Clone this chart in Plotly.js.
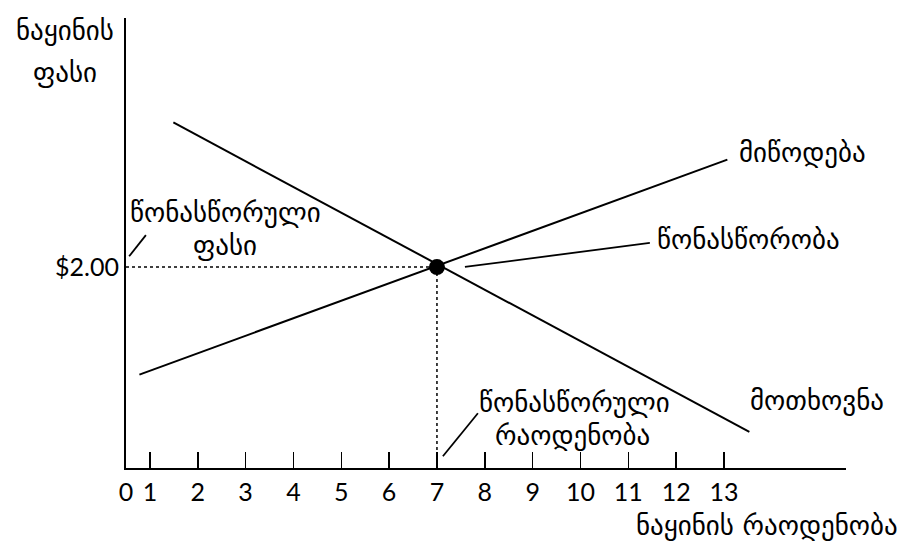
<!DOCTYPE html>
<html>
<head>
<meta charset="utf-8">
<script src="https://cdn.plot.ly/plotly-3.0.1.min.js"></script>
<style>
  html, body { margin: 0; padding: 0; background: #fff; }
  #plot { width: 909px; height: 544px; }
</style>
</head>
<body>
<div id="plot"></div>
<script>
// Supply and demand lines (quantity on x, price on y, $2.00 = 2)
let supplyX = [0.78, 13.07];
let supplyY = [0.93, 3.07];
let demandX = [1.49, 13.53];
let demandY = [3.44, 0.36];

// Equilibrium point
let eqX = [7];
let eqY = [2];

// Axis ticks
let xTickVals = [0.5, 1, 2, 3, 4, 5, 6, 7, 8, 9, 10, 11, 12, 13];
let xTickText = ["0", "1", "2", "3", "4", "5", "6", "7", "8", "9", "10", "11", "12", "13"];
let yTickVals = [2];
let yTickText = ["$2.00"];

let geoFont = { family: "DejaVu Sans, sans-serif", size: 27, color: "#000" };
let numFont = { family: "Lato, Open Sans, sans-serif", size: 25, color: "#000" };

let line = { color: "#000", width: 2 };
let dotted = { color: "#000", width: 1.5, dash: "dot" };

let data = [
  { x: [0.5, eqX[0]], y: [eqY[0], eqY[0]], mode: "lines", line: dotted, hoverinfo: "skip" },
  { x: [eqX[0], eqX[0]], y: [0, eqY[0]], mode: "lines", line: dotted, hoverinfo: "skip" },
  { x: supplyX, y: supplyY, mode: "lines", line: line, name: "მიწოდება" },
  { x: demandX, y: demandY, mode: "lines", line: line, name: "მოთხოვნა" },
  { x: eqX, y: eqY, mode: "markers", marker: { color: "#000", size: 16 }, name: "წონასწორობა" }
];

// leader lines from labels
function leader(x0, y0, x1, y1) {
  return { type: "line", xref: "x", yref: "y", x0: x0, y0: y0, x1: x1, y1: y1,
           line: { color: "#000", width: 1.8 } };
}

function label(text, x, y, anchor, xref, yref) {
  return { text: text, x: x, y: y, xref: xref || "x", yref: yref || "y",
           xanchor: anchor || "center", yanchor: "middle", showarrow: false, font: geoFont };
}

let layout = {
  width: 909,
  height: 544,
  margin: { l: 126, r: 63, t: 18, b: 76 },
  paper_bgcolor: "#fff",
  plot_bgcolor: "#fff",
  showlegend: false,
  xaxis: {
    range: [0.5, 15.55],
    tickvals: xTickVals,
    ticktext: xTickText,
    ticks: "inside",
    ticklen: 16,
    tickwidth: 1.5,
    tickcolor: "#000",
    showline: true,
    linecolor: "#000",
    linewidth: 2,
    showgrid: false,
    zeroline: false,
    tickfont: numFont,
    ticklabelstandoff: 1
  },
  yaxis: {
    range: [0, 4.48],
    tickvals: yTickVals,
    ticktext: yTickText,
    ticks: "",
    showline: true,
    linecolor: "#000",
    linewidth: 2,
    showgrid: false,
    zeroline: false,
    tickfont: numFont
  },
  shapes: [
    leader(0.566, 2.108, 0.916, 2.318),
    leader(7.584, 2.002, 11.45, 2.241),
    leader(7.124, 0.117, 7.856, 0.545)
  ],
  annotations: [
    label("ნაყინის", -0.085, 0.973, "center", "paper", "paper"),
    label("ფასი", -0.085, 0.88, "center", "paper", "paper"),
    label("ნაყინის რაოდენობა", 1.075, -0.127, "right", "paper", "paper"),
    label("წონასწორული", 2.587, 2.545),
    label("ფასი", 2.566, 2.218),
    label("მიწოდება", 13.27, 3.137, "left"),
    label("წონასწორობა", 11.55, 2.27, "left"),
    label("მოთხოვნა", 13.5, 0.674, "left"),
    label("წონასწორული", 9.88, 0.654),
    label("რაოდენობა", 9.84, 0.326)
  ]
};

Plotly.newPlot("plot", data, layout, { displayModeBar: false, staticPlot: true });
</script>
</body>
</html>
